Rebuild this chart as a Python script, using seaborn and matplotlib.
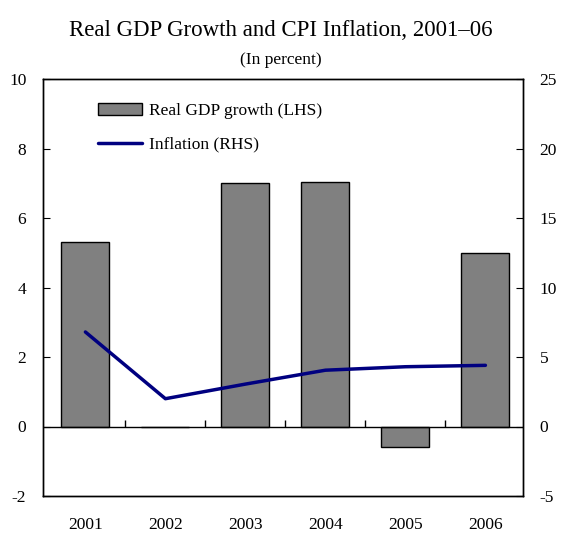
import numpy as np
import pandas as pd
import matplotlib
matplotlib.use("Agg")
import matplotlib.pyplot as plt
import seaborn as sns
from matplotlib.patches import Patch
from matplotlib.lines import Line2D

years = ["2001", "2002", "2003", "2004", "2005", "2006"]
gdp_growth = [5.3, 0.0, 7.0, 7.05, -0.6, 5.0]
inflation = [6.8, 2.0, 3.05, 4.05, 4.3, 4.4]
left_ticks = [-2, 0, 2, 4, 6, 8, 10]
right_ticks = [-5, 0, 5, 10, 15, 20, 25]

sns.set_style("white")
plt.rcParams["font.family"] = ["Liberation Serif", "DejaVu Serif"]
plt.rcParams["axes.unicode_minus"] = False
plt.rcParams["text.color"] = "black"
plt.rcParams["xtick.color"] = "black"
plt.rcParams["ytick.color"] = "black"
plt.rcParams["axes.labelcolor"] = "black"

df = pd.DataFrame({"year": years, "gdp": gdp_growth, "infl": inflation})

fig = plt.figure(figsize=(5.61, 5.33), dpi=100)
ax = fig.add_axes([43 / 561, 37 / 533, 480 / 561, 417 / 533])

sns.barplot(data=df, x="year", y="gdp", ax=ax, color="#808080", width=0.6,
            edgecolor="black", linewidth=1, saturation=1)
ax.set_ylim(-2, 10)
ax.set_xlim(-0.53, 5.47)
ax.set_yticks(left_ticks)
ax.set_yticklabels([str(t) for t in left_ticks])
ax.axhline(0, color="black", lw=1, zorder=3)
ax.vlines(np.arange(0.5, 5.5, 1), 0, 0.2, color="black", lw=1, zorder=3)
ax.set_xlabel("")
ax.set_ylabel("")
ax.tick_params(axis="x", length=0, pad=15, labelsize=12.5, labelcolor="black")
ax.tick_params(axis="y", direction="in", length=5, pad=12, labelsize=12.5, left=True,
               color="black", labelcolor="black")

ax2 = ax.twinx()
sns.lineplot(data=df, x="year", y="infl", ax=ax2, color="#000080", lw=2.5)
ax2.set_ylim(-5, 25)
ax2.set_yticks(right_ticks)
ax2.set_yticklabels([str(t) for t in right_ticks])
ax2.set_ylabel("")
ax2.tick_params(axis="y", direction="in", length=5, pad=12, labelsize=12.5, right=True,
                color="black", labelcolor="black")

for a in (ax, ax2):
    for s in a.spines.values():
        s.set_color("black")
        s.set_linewidth(1)

handles = [Patch(facecolor="#808080", edgecolor="black", lw=1),
           Line2D([0], [0], color="#000080", lw=2.5)]
ax.legend(handles, ["Real GDP growth (LHS)", "Inflation (RHS)"],
          loc="upper left", bbox_to_anchor=(0.083, 0.98), frameon=False,
          fontsize=12.5, handlelength=2.5, handletextpad=0.4, labelspacing=1.0,
          labelcolor="black")

fig.text(0.5, 1 - 31 / 533, "Real GDP Growth and CPI Inflation, 2001\u201306",
         ha="center", va="center", fontsize=16.5, color="black")
fig.text(0.5, 1 - 60 / 533, "(In percent)", ha="center", va="center", fontsize=12.5,
         color="black")

fig.savefig("out.png", dpi=100)
